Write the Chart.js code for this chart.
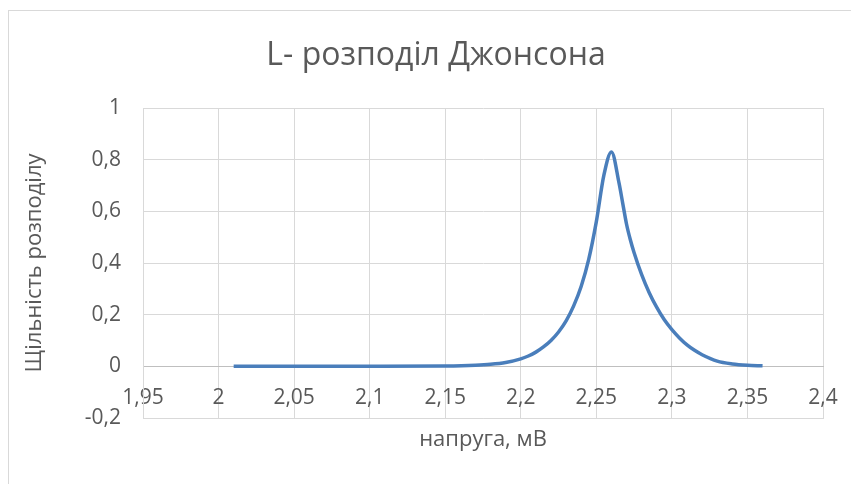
<!DOCTYPE html>
<html>
<head>
<meta charset="utf-8">
<script src="https://cdn.jsdelivr.net/npm/chart.js@4.4.0/dist/chart.umd.min.js"></script>
<style>
  html, body { margin: 0; padding: 0; background: #fff; width: 851px; height: 484px; overflow: hidden; }
  #frame { position: absolute; left: 8px; top: 10px; width: 900px; height: 520px; border: 1px solid #d9d9d9; }
  #wrap { position: absolute; left: 0; top: 0; width: 872px; height: 484px; }
</style>
</head>
<body>
<div id="frame"></div>
<div id="wrap"><canvas id="chart01" width="872" height="484"></canvas></div>
<script>
// напруга, мВ
var voltage = [2.01, 2.05, 2.10, 2.15, 2.17, 2.18, 2.19, 2.20, 2.205, 2.21, 2.215, 2.22, 2.225, 2.23,
  2.235, 2.24, 2.245, 2.25, 2.255, 2.26, 2.265, 2.2675, 2.27, 2.2725, 2.275, 2.28, 2.285, 2.29, 2.295, 2.30,
  2.305, 2.31, 2.315, 2.32, 2.33, 2.34, 2.35, 2.36];
// щільність розподілу
var density = [0, 0, 0.0002, 0.0015, 0.0045, 0.008, 0.015, 0.029, 0.04, 0.055, 0.075, 0.1, 0.133, 0.176,
  0.234, 0.31, 0.415, 0.56, 0.74, 0.83, 0.71, 0.63, 0.55, 0.49, 0.44, 0.355, 0.285, 0.228, 0.18, 0.142,
  0.11, 0.083, 0.062, 0.045, 0.02, 0.009, 0.004, 0.002];

var xTicks = { min: 1.95, max: 2.4, step: 0.05 };
var yTicks = { min: -0.2, max: 1, step: 0.2 };

var FONT = "'Open Sans', 'Noto Sans', sans-serif";
var GREY = '#595959';

function comma (v) {
  return String(Math.round(v * 100) / 100).replace('.', ',');
}

function chartLine (chart_id) {
  var el = document.getElementById(chart_id);
  if (!el) {
    return;
  }
  var ctx = el.getContext('2d');

  var points = voltage.map(function (v, i) { return { x: v, y: density[i] }; });

  new Chart(ctx, {
    type: 'scatter',
    data: {
      datasets: [{
        data: points,
        showLine: true,
        borderColor: '#4a7ebb',
        backgroundColor: '#4a7ebb',
        borderWidth: 3.5,
        pointRadius: 0,
        cubicInterpolationMode: 'monotone',
        xAxisID: 'x',
        yAxisID: 'y'
      }]
    },
    options: {
      responsive: false,
      animation: false,
      layout: { padding: 0 },
      plugins: {
        legend: { display: false },
        tooltip: { enabled: false },
        title: {
          display: true,
          text: 'L- розподіл Джонсона',
          color: GREY,
          font: { family: FONT, size: 32, weight: 'normal' },
          padding: { top: 37, bottom: 32.6 }
        }
      },
      scales: {
        x: {
          type: 'linear',
          position: 'bottom',
          min: xTicks.min,
          max: xTicks.max,
          ticks: { stepSize: xTicks.step, display: false },
          grid: { color: '#d9d9d9', drawTicks: false },
          border: { color: '#d9d9d9' },
          title: {
            display: true,
            text: 'напруга, мВ',
            color: GREY,
            font: { family: FONT, size: 22 },
            padding: { top: 0, bottom: 31 }
          },
          afterFit: function (s) { s.height = 66; }
        },
        // labels sit on the zero line, like Excel's crossing axis
        x2: {
          type: 'linear',
          position: { y: 0 },
          min: xTicks.min,
          max: xTicks.max,
          ticks: {
            stepSize: xTicks.step,
            color: GREY,
            padding: 19,
            maxRotation: 0,
            autoSkip: false,
            font: { family: FONT, size: 21 },
            callback: function (v) { return comma(v); }
          },
          grid: { display: false, drawTicks: false },
          border: { color: '#bfbfbf' },
          afterFit: function (s) { s.height = 0; }
        },
        y: {
          type: 'linear',
          position: 'left',
          min: yTicks.min,
          max: yTicks.max,
          ticks: {
            stepSize: yTicks.step,
            color: GREY,
            padding: 22,
            font: { family: FONT, size: 21 },
            callback: function (v) { return comma(v); }
          },
          grid: { color: '#d9d9d9', drawTicks: false },
          border: { color: '#d9d9d9' },
          title: {
            display: true,
            text: 'Щільність розподілу',
            color: GREY,
            font: { family: FONT, size: 22 },
            padding: { top: 22, bottom: 0 }
          },
          afterFit: function (s) { s.width = 143; }
        },
        // empty right axis, only to reserve space
        yR: {
          type: 'linear',
          position: 'right',
          display: true,
          ticks: { display: false },
          grid: { display: false },
          border: { display: false },
          afterFit: function (s) { s.width = 49; }
        }
      }
    }
  });
}

chartLine('chart01');
</script>
</body>
</html>
